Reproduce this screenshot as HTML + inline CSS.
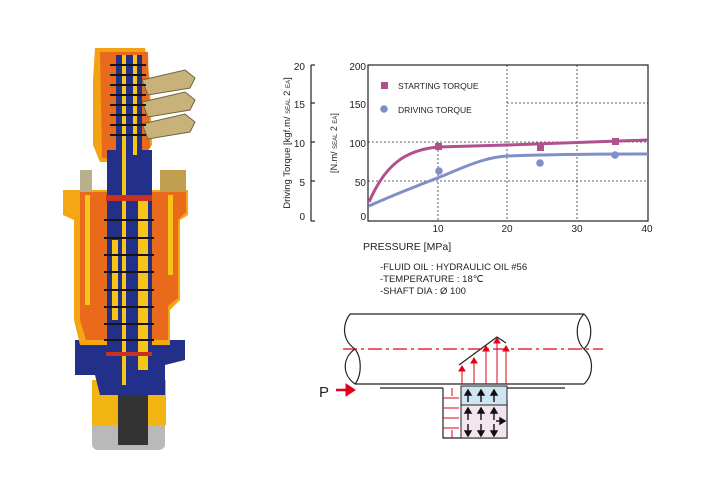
<!DOCTYPE html>
<html><head><meta charset="utf-8"><style>
body{margin:0;background:#fff;width:705px;height:500px;overflow:hidden}
svg{display:block}
text{font-family:"Liberation Sans",sans-serif;fill:#222}
</style></head><body>
<svg width="705" height="500" viewBox="0 0 705 500" xmlns="http://www.w3.org/2000/svg">
<!-- Photo approximation -->
<g>
 <rect x="92" y="420" width="73" height="30" rx="6" fill="#b9b9b9"/>
 <rect x="92" y="380" width="74" height="45" fill="#f2b411"/>
 <rect x="118" y="390" width="30" height="55" fill="#333"/>
 <path d="M75 340 L185 340 L185 360 L165 365 L165 395 L100 395 L95 375 L75 375 Z" fill="#23308a"/>
 <!-- main housing -->
 <path d="M63 190 L188 190 L188 215 L180 220 L180 300 L170 310 L170 345 L80 345 L74 320 L74 220 L63 215 Z" fill="#f5a614"/>
 <path d="M80 192 L186 192 L186 212 L178 220 L178 298 L168 306 L168 340 L86 340 L80 320 Z" fill="#ea6a1c"/>
 <rect x="85" y="195" width="5" height="110" fill="#f5c518"/>
 <rect x="168" y="195" width="5" height="80" fill="#f5c518"/>
 <!-- head -->
 <path d="M95 48 L145 48 L150 80 L152 145 L140 162 L100 162 L93 145 L93 80 Z" fill="#f2a212"/>
 <path d="M100 52 L148 52 L150 148 L140 158 L102 158 Z" fill="#ea6a1c"/>
 <!-- fittings -->
 <g fill="#c9b27a" stroke="#6f6440" stroke-width="1">
  <path d="M142 80 L185 70 L195 78 L190 88 L148 95 Z"/>
  <path d="M142 102 L185 92 L195 100 L190 110 L148 117 Z"/>
  <path d="M142 124 L185 114 L195 122 L190 132 L148 139 Z"/>
 </g>
 <rect x="80" y="170" width="12" height="22" fill="#b8b08a"/>
 <rect x="160" y="170" width="26" height="22" fill="#c0a050"/>
 <!-- central column -->
 <rect x="107" y="150" width="45" height="230" fill="#23308a"/>
 <rect x="116" y="55" width="26" height="100" fill="#23308a"/>
 <rect x="122" y="55" width="4" height="330" fill="#f5c518"/>
 <rect x="133" y="55" width="4" height="100" fill="#f5c518"/>
 <rect x="138" y="200" width="10" height="170" fill="#f5c518"/>
 <rect x="112" y="240" width="6" height="80" fill="#f5c518"/>
 <g stroke="#151515" stroke-width="2" fill="none">
  <line x1="110" y1="65" x2="146" y2="65"/><line x1="110" y1="75" x2="146" y2="75"/>
  <line x1="110" y1="85" x2="146" y2="85"/><line x1="110" y1="95" x2="146" y2="95"/>
  <line x1="110" y1="105" x2="146" y2="105"/><line x1="110" y1="115" x2="146" y2="115"/>
  <line x1="110" y1="125" x2="146" y2="125"/><line x1="110" y1="135" x2="146" y2="135"/>
  <line x1="104" y1="220" x2="154" y2="220"/><line x1="104" y1="238" x2="154" y2="238"/>
  <line x1="104" y1="255" x2="154" y2="255"/><line x1="104" y1="272" x2="154" y2="272"/>
  <line x1="104" y1="290" x2="154" y2="290"/><line x1="104" y1="307" x2="154" y2="307"/>
  <line x1="104" y1="324" x2="154" y2="324"/><line x1="104" y1="340" x2="154" y2="340"/>
 </g>
 <rect x="106" y="195" width="46" height="6" fill="#c83020"/>
 <rect x="106" y="352" width="46" height="4" fill="#c83020"/>
</g>

<!-- left axis -->
<g stroke="#222" stroke-width="1.2" fill="none">
 <line x1="311" y1="65" x2="311" y2="221"/>
 <line x1="311" y1="65" x2="315" y2="65"/><line x1="311" y1="103" x2="315" y2="103"/>
 <line x1="311" y1="142" x2="315" y2="142"/><line x1="311" y1="181" x2="315" y2="181"/>
 <line x1="311" y1="221" x2="315" y2="221"/>
</g>
<g font-size="10" text-anchor="end">
 <text x="305" y="70">20</text><text x="305" y="108">15</text><text x="305" y="147">10</text>
 <text x="305" y="186">5</text><text x="305" y="220">0</text>
</g>
<text transform="translate(290,143) rotate(-90)" font-size="9.5" text-anchor="middle">Driving Torque [kgf.m/ <tspan font-size="6">SEAL</tspan> 2 <tspan font-size="6">EA</tspan>]</text>
<text transform="translate(337,143) rotate(-90)" font-size="9" text-anchor="middle">[N.m/ <tspan font-size="6">SEAL</tspan> 2 <tspan font-size="6">EA</tspan>]</text>

<g stroke="#333" stroke-width="0.8" stroke-dasharray="2,2" fill="none">
 <line x1="438" y1="142" x2="438" y2="221"/>
 <line x1="507" y1="65" x2="507" y2="221"/>
 <line x1="577" y1="65" x2="577" y2="221"/>
 <line x1="368" y1="142" x2="648" y2="142"/>
 <line x1="368" y1="181" x2="648" y2="181"/>
 <line x1="507" y1="103" x2="648" y2="103"/>
</g>
<rect x="368" y="65" width="280" height="156" fill="none" stroke="#222" stroke-width="1.2"/>
<g font-size="10" text-anchor="end">
 <text x="366" y="70">200</text><text x="366" y="108">150</text><text x="366" y="147">100</text>
 <text x="366" y="186">50</text><text x="366" y="220">0</text>
</g>
<g font-size="10" text-anchor="middle">
 <text x="438" y="232">10</text><text x="507" y="232">20</text><text x="577" y="232">30</text><text x="647" y="232">40</text>
</g>
<path d="M369 202 C385 165 405 150 438 147 L507 145 C560 143 610 141 648 140" fill="none" stroke="#b0508f" stroke-width="3"/>
<path d="M369 206 C400 192 425 183 445 175 C475 162 490 157 507 156 C560 154 610 154 648 154" fill="none" stroke="#7f8fc7" stroke-width="3"/>
<g fill="#b0508f">
 <rect x="435" y="143" width="7" height="7"/><rect x="537" y="144" width="7" height="7"/><rect x="612" y="138" width="7" height="7"/>
 <rect x="381" y="82" width="7" height="7"/>
</g>
<g fill="#7f8fc7">
 <circle cx="439" cy="171" r="3.8"/><circle cx="540" cy="163" r="3.8"/><circle cx="615" cy="155" r="3.8"/>
 <circle cx="384" cy="109" r="3.8"/>
</g>
<text x="398" y="89" font-size="8.5">STARTING TORQUE</text>
<text x="398" y="113" font-size="8.5">DRIVING TORQUE</text>
<text x="363" y="250" font-size="10.5">PRESSURE [MPa]</text>
<g font-size="9.5">
 <text x="380" y="270">-FLUID OIL : HYDRAULIC OIL #56</text>
 <text x="380" y="282">-TEMPERATURE : 18℃</text>
 <text x="380" y="294">-SHAFT DIA : Ø 100</text>
</g>

<!-- seal diagram -->
<g stroke="#222" stroke-width="1.2" fill="none">
 <line x1="350" y1="314" x2="584" y2="314"/>
 <line x1="355" y1="384" x2="584" y2="384"/>
 <path d="M350 314 C342 325 342 340 355 349 C342 358 342 375 355 384"/>
 <path d="M355 349 C362 358 362 375 355 384"/>
 <path d="M584 314 C575 323 575 340 584 349 C593 340 593 323 584 314"/>
 <path d="M584 349 C594 358 594 375 584 384"/>
 <line x1="380" y1="388" x2="443" y2="388"/>
 <line x1="507" y1="388" x2="565" y2="388"/>
 <polyline points="443,388 443,438 507,438 507,400"/>
 <polyline points="459,365 497,337 506,343"/>
</g>
<rect x="461" y="386" width="46" height="19" fill="#cfe6f2" stroke="#222" stroke-width="1"/>
<rect x="461" y="405" width="46" height="33" fill="#f3e4ee" stroke="#222" stroke-width="1"/>
<line x1="343" y1="349" x2="603" y2="349" stroke="#e2001a" stroke-width="1.2" stroke-dasharray="14,4,3,4"/>
<g stroke="#e2001a" stroke-width="1" fill="#e2001a">
 <line x1="462" y1="384" x2="462" y2="370"/><polygon points="459,371 465,371 462,366"/>
 <line x1="474" y1="384" x2="474" y2="362"/><polygon points="471,363 477,363 474,358"/>
 <line x1="486" y1="384" x2="486" y2="350"/><polygon points="483,351 489,351 486,346"/>
 <line x1="497" y1="384" x2="497" y2="342"/><polygon points="494,343 500,343 497,338"/>
 <line x1="506" y1="384" x2="506" y2="350"/><polygon points="503,351 509,351 506,346"/>
 <line x1="443" y1="398" x2="459" y2="398"/><line x1="443" y1="408" x2="459" y2="408"/>
 <line x1="443" y1="418" x2="459" y2="418"/><line x1="443" y1="428" x2="459" y2="428"/>
 <line x1="452" y1="388" x2="452" y2="396"/><line x1="452" y1="430" x2="452" y2="438"/>
 <line x1="336" y1="390" x2="347" y2="390" stroke-width="2.5"/><polygon points="346,384 355,390 346,396"/>
</g>
<g stroke="#111" stroke-width="1.4" fill="#111">
 <line x1="468" y1="402" x2="468" y2="394"/><polygon points="465,395 471,395 468,390"/>
 <line x1="481" y1="402" x2="481" y2="394"/><polygon points="478,395 484,395 481,390"/>
 <line x1="494" y1="402" x2="494" y2="394"/><polygon points="491,395 497,395 494,390"/>
 <line x1="468" y1="420" x2="468" y2="412"/><polygon points="465,413 471,413 468,408"/>
 <line x1="481" y1="420" x2="481" y2="412"/><polygon points="478,413 484,413 481,408"/>
 <line x1="494" y1="420" x2="494" y2="412"/><polygon points="491,413 497,413 494,408"/>
 <line x1="468" y1="424" x2="468" y2="432"/><polygon points="465,431 471,431 468,436"/>
 <line x1="481" y1="424" x2="481" y2="432"/><polygon points="478,431 484,431 481,436"/>
 <line x1="494" y1="424" x2="494" y2="432"/><polygon points="491,431 497,431 494,436"/>
 <line x1="496" y1="421" x2="501" y2="421"/><polygon points="500,418 505,421 500,424"/>
</g>
<text x="319" y="397" font-size="15" fill="#222">P</text>
</svg>
</body></html>
